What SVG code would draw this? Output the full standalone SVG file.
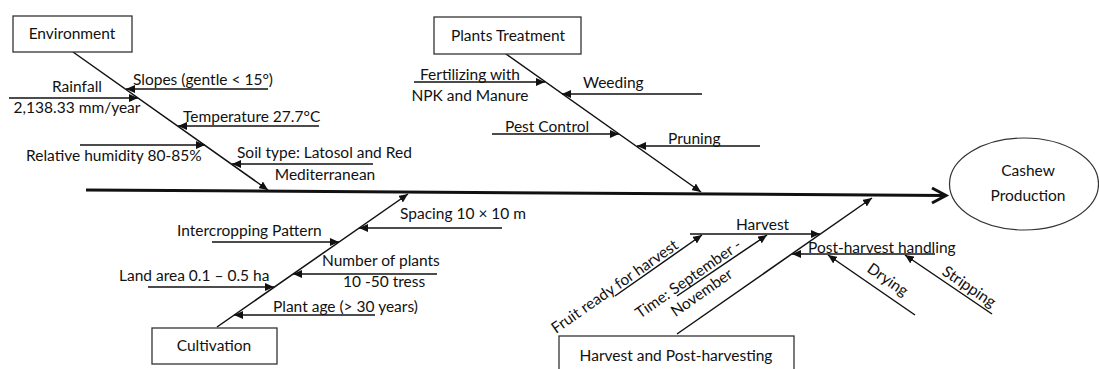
<svg xmlns="http://www.w3.org/2000/svg" width="1099" height="369" viewBox="0 0 1099 369">
<defs>
<style>
text{font-family:Lato,"Liberation Sans",sans-serif;font-size:15.5px;fill:#111}
.c{text-anchor:middle}
.box{fill:#fff;stroke:#333;stroke-width:1.3}
.bone{stroke:#111;stroke-width:1.5;fill:none}
.sub{stroke:#111;stroke-width:1.5;fill:none;marker-end:url(#ah)}
</style>
<marker id="ah" markerUnits="userSpaceOnUse" markerWidth="10" markerHeight="8" refX="9" refY="4" orient="auto">
<path d="M0,0 L9,4 L0,8 Z" fill="#111"/>
</marker>
</defs>
<rect width="1099" height="369" fill="#fff"/>
<g id="connectors">
<line x1="86" y1="190" x2="945" y2="195.5" stroke="#111" stroke-width="3"/>
<polyline points="932,188 946,195.5 932,203" fill="none" stroke="#111" stroke-width="3"/>
<line class="sub" x1="73" y1="52" x2="268" y2="190"/>
<line class="sub" x1="506" y1="54" x2="701" y2="192"/>
<line class="sub" x1="217" y1="327" x2="408" y2="194"/>
<line class="sub" x1="677" y1="334" x2="872" y2="198"/>
<line class="sub" x1="9" y1="98" x2="138" y2="98"/>
<line class="sub" x1="268" y1="89" x2="126" y2="89"/>
<line class="sub" x1="319" y1="126" x2="178" y2="126"/>
<line class="sub" x1="80" y1="145" x2="205" y2="145"/>
<line class="sub" x1="373" y1="164" x2="232" y2="164"/>
<line class="sub" x1="414" y1="82" x2="545" y2="82"/>
<line class="sub" x1="702" y1="94" x2="562" y2="94"/>
<line class="sub" x1="492" y1="134" x2="619" y2="134"/>
<line class="sub" x1="760" y1="146" x2="637" y2="146"/>
<line class="sub" x1="502" y1="228" x2="359" y2="228"/>
<line class="sub" x1="212" y1="242" x2="339" y2="242"/>
<line class="sub" x1="437" y1="274" x2="293" y2="274"/>
<line class="sub" x1="148" y1="287" x2="274" y2="287"/>
<line class="sub" x1="375" y1="315" x2="234" y2="315"/>
<line class="sub" x1="690" y1="234" x2="820" y2="234"/>
<line class="sub" x1="935" y1="254" x2="792" y2="254"/>
<line class="sub" x1="615" y1="296" x2="702" y2="235"/>
<line class="sub" x1="677" y1="296" x2="767" y2="235"/>
<line class="sub" x1="915" y1="315" x2="828" y2="255"/>
<line class="sub" x1="992" y1="314" x2="905" y2="255"/>
</g>
<g id="environment">
<rect class="box" x="13" y="16" width="119" height="36"/>
<text class="c" x="72" y="39">Environment</text>
</g>
<g id="plants-treatment">
<rect class="box" x="434" y="17" width="147" height="37"/>
<text class="c" x="508" y="41">Plants Treatment</text>
</g>
<g id="cultivation">
<rect class="box" x="152" y="328" width="125" height="36"/>
<text class="c" x="214" y="351">Cultivation</text>
</g>
<g id="harvest-post-harvesting">
<rect class="box" x="559" y="336" width="235" height="45"/>
<text class="c" x="676" y="361">Harvest and Post-harvesting</text>
</g>
<g id="cashew-production">
<ellipse cx="1024" cy="184" rx="74.5" ry="46" fill="#fff" stroke="#333" stroke-width="1.2"/>
<text class="c" x="1028" y="176">Cashew</text>
<text class="c" x="1028" y="201">Production</text>
</g>
<g id="environment-causes">
<text class="c" x="77" y="92">Rainfall</text>
<text class="c" x="77" y="113">2,138.33 mm/year</text>
<text x="133" y="85">Slopes (gentle &lt; 15°)</text>
<text x="183" y="122">Temperature 27.7°C</text>
<text x="26" y="161">Relative humidity 80-85%</text>
<text x="237" y="158">Soil type: Latosol and Red</text>
<text class="c" x="325" y="180">Mediterranean</text>
</g>
<g id="plants-treatment-causes">
<text class="c" x="470" y="80">Fertilizing with</text>
<text class="c" x="470" y="101">NPK and Manure</text>
<text x="583" y="88">Weeding</text>
<text x="505" y="132">Pest Control</text>
<text x="668" y="144">Pruning</text>
</g>
<g id="cultivation-causes">
<text x="400" y="219">Spacing 10 × 10 m</text>
<text x="177" y="236">Intercropping Pattern</text>
<text x="322" y="266">Number of plants</text>
<text x="343" y="287">10 -50 tress</text>
<text x="119" y="281">Land area 0.1 – 0.5 ha</text>
<text x="273" y="312">Plant age (&gt; 30 years)</text>
</g>
<g id="harvest-causes">
<text x="736" y="230">Harvest</text>
<text x="808" y="253">Post-harvest handling</text>
<text transform="translate(556,334) rotate(-35)">Fruit ready for harvest</text>
<text transform="translate(640,319) rotate(-35)">Time: September -<tspan x="30" y="19">November</tspan></text>
<text transform="translate(866,271) rotate(34.6)">Drying</text>
<text transform="translate(941,274) rotate(34)">Stripping</text>
</g>
</svg>
